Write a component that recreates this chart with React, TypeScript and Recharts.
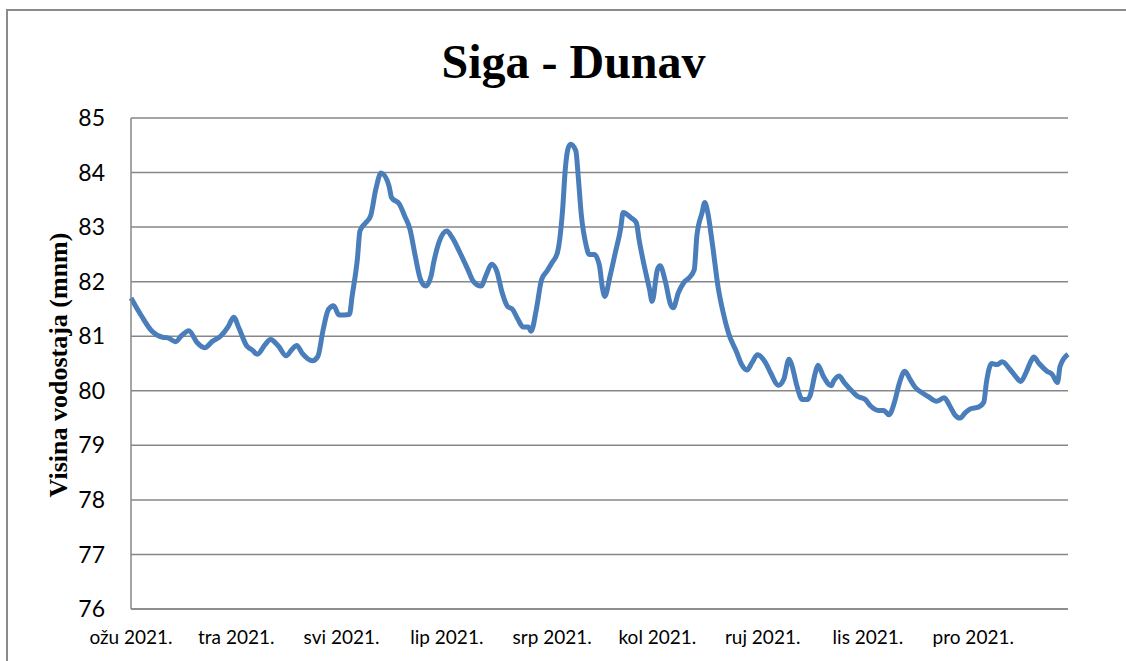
import React from "react";
import { LineChart, Line, XAxis, YAxis, CartesianGrid } from "recharts";

// day offsets from the first reading (axis unit = half a label step of 20)
const dayOffsets = [
  0, 4, 8, 12, 14, 17, 19, 22, 25, 28,
  31, 34, 37, 39, 41, 44, 46, 48, 51, 53,
  56, 59, 61, 63, 65, 69, 71, 73, 75, 77,
  79, 83, 84, 86, 87, 89, 91, 93, 95, 98,
  99, 102, 104, 106, 108, 110, 112, 114, 115, 117,
  120, 122, 125, 128, 130, 133, 135, 137, 139, 141,
  143, 145, 147, 149, 151, 152, 154, 156, 158, 160,
  162, 164, 165, 166, 167, 169, 170, 171, 173, 174,
  176, 178, 179, 180, 182, 184, 186, 187, 190, 192,
  193, 195, 197, 198, 200, 201, 203, 205, 206, 208,
  210, 212, 214, 215, 217, 218, 219, 221, 223, 225,
  227, 230, 232, 234, 236, 238, 241, 243, 246, 248,
  250, 251, 253, 255, 257, 258, 260, 261, 263, 266,
  267, 269, 271, 274, 276, 279, 281, 284, 286, 288,
  290, 292, 294, 296, 298, 300, 303, 306, 309, 311,
  313, 315, 317, 319, 322, 324, 325, 327, 329, 331,
  334, 336, 338, 340, 342, 343, 345, 348, 350, 352,
  353, 356,
];

// water level (m above sea level), Siga station on the Danube
const waterLevels = [
  81.7, 81.37, 81.09, 80.98, 80.97, 80.9, 81.0, 81.1, 80.89, 80.79,
  80.91, 81.0, 81.18, 81.35, 81.15, 80.82, 80.75, 80.67, 80.85, 80.94,
  80.82, 80.64, 80.75, 80.83, 80.69, 80.55, 80.63, 81.12, 81.49, 81.56,
  81.39, 81.4, 81.73, 82.41, 82.93, 83.07, 83.2, 83.69, 83.99, 83.76,
  83.54, 83.42, 83.2, 82.96, 82.47, 82.04, 81.92, 82.1, 82.35, 82.72,
  82.93, 82.81, 82.53, 82.22, 82.01, 81.92, 82.13, 82.32, 82.19, 81.8,
  81.55, 81.49, 81.31, 81.17, 81.17, 81.09, 81.49, 82.04, 82.19, 82.35,
  82.53, 83.33, 84.06, 84.43, 84.52, 84.4, 83.88, 83.27, 82.65, 82.5,
  82.5, 82.29, 81.92, 81.73, 82.1, 82.53, 82.96, 83.27, 83.17, 83.08,
  82.78, 82.29, 81.86, 81.64, 82.22, 82.29, 82.01, 81.58, 81.52, 81.8,
  81.98, 82.07, 82.22, 82.84, 83.27, 83.45, 83.3, 82.65, 81.92, 81.43,
  81.06, 80.72, 80.48, 80.38, 80.52, 80.66, 80.52, 80.33, 80.1, 80.21,
  80.58, 80.48, 80.09, 79.84, 79.84, 79.91, 80.33, 80.47, 80.27, 80.09,
  80.18, 80.27, 80.15, 79.99, 79.9, 79.84, 79.72, 79.64, 79.64, 79.56,
  79.78, 80.15, 80.36, 80.21, 80.06, 79.98, 79.89, 79.81, 79.87, 79.73,
  79.56, 79.5, 79.6, 79.67, 79.7, 79.79, 80.15, 80.5, 80.48, 80.53,
  80.39, 80.27, 80.17, 80.33, 80.55, 80.62, 80.5, 80.36, 80.3, 80.15,
  80.45, 80.67,
];

const tickDays = [0, 40, 80, 120, 160, 200, 240, 280, 320];
const monthLabels = [
  "ožu 2021.",
  "tra 2021.",
  "svi 2021.",
  "lip 2021.",
  "srp 2021.",
  "kol 2021.",
  "ruj 2021.",
  "lis 2021.",
  "pro 2021.",
];
const levelTicks = [76, 77, 78, 79, 80, 81, 82, 83, 84, 85];

const data = dayOffsets.map((day, i) => ({ day, level: waterLevels[i] }));

const GRID = "#878787";
const LINE = "#4a7ebb";
const TICK_FONT = "Lato, 'Open Sans', sans-serif";
const SERIF = "'Liberation Serif', 'Times New Roman', serif";

export default function App() {
  // fixed to the viewport so the outer frame can sit left of the body margin
  return (
    <div
      style={{
        position: "fixed",
        left: 0,
        top: 0,
        width: 1126,
        height: 661,
        overflow: "hidden",
        background: "#fff",
      }}
    >
      <div style={{ position: "absolute", left: 0, top: 0 }}>
        <LineChart
          width={1126}
          height={653}
          data={data}
          margin={{ top: 118, right: 58, left: 0, bottom: 0 }}
        >
          <CartesianGrid horizontal vertical={false} stroke={GRID} strokeWidth={1.5} />
          <XAxis
            dataKey="day"
            type="number"
            domain={[0, 356]}
            ticks={tickDays}
            interval={0}
            tickFormatter={(v: number) => monthLabels[tickDays.indexOf(v)] ?? ""}
            height={44}
            tickSize={0}
            tickMargin={22}
            tickLine={false}
            axisLine={{ stroke: GRID, strokeWidth: 1.5 }}
            tick={{ fill: "#000", fontSize: 19, fontFamily: TICK_FONT }}
          />
          <YAxis
            type="number"
            domain={[76, 85]}
            ticks={levelTicks}
            interval={0}
            width={131}
            tickSize={0}
            tickMargin={26}
            tickLine={false}
            axisLine={{ stroke: GRID, strokeWidth: 1.5 }}
            tick={{ fill: "#000", fontSize: 23, fontFamily: TICK_FONT }}
          />
          <Line
            type="monotone"
            dataKey="level"
            stroke={LINE}
            strokeWidth={5}
            dot={false}
            activeDot={false}
            isAnimationActive={false}
          />
        </LineChart>
      </div>
      <svg
        width={1126}
        height={661}
        style={{ position: "absolute", left: 0, top: 0, pointerEvents: "none" }}
      >
        <path d="M7 661 V10 H1126" fill="none" stroke="#8a8a8a" strokeWidth={2} />
        <text
          x={573.5}
          y={78}
          textAnchor="middle"
          fontFamily={SERIF}
          fontWeight="bold"
          fontSize={48}
          fill="#000"
        >
          Siga - Dunav
        </text>
        <text
          transform="translate(58 365) rotate(-90)"
          textAnchor="middle"
          dominantBaseline="central"
          fontFamily={SERIF}
          fontWeight="bold"
          fontSize={26}
          fill="#000"
        >
          Visina vodostaja (mnm)
        </text>
      </svg>
    </div>
  );
}
